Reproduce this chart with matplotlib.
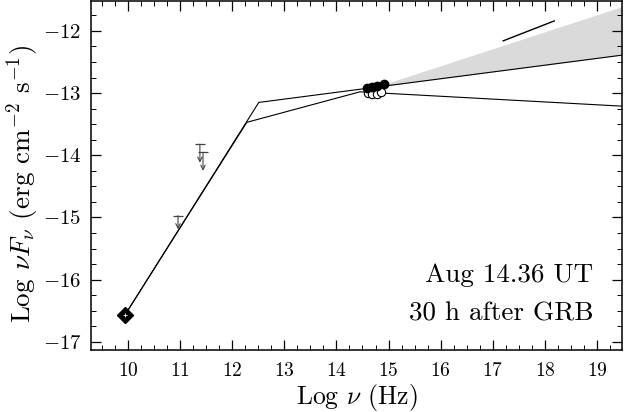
import numpy as np
import matplotlib
matplotlib.use("Agg")
import matplotlib.pyplot as plt
from matplotlib.ticker import MultipleLocator

plt.rcParams['font.family'] = ['cmr10', 'DejaVu Serif']
plt.rcParams['mathtext.fontset'] = 'cm'
plt.rcParams['axes.formatter.use_mathtext'] = True

# radio point
radio_x = [9.94]
radio_y = [-16.57]

# upper limits (mm / submm)
lim_x = [10.96, 11.38, 11.44]
lim_y = [-14.97, -13.82, -13.95]
lim_len = [0.22, 0.30, 0.30]

# optical / nIR points
opt_x = [14.58, 14.68, 14.78, 14.91]
opt_y = [-12.92, -12.91, -12.89, -12.85]
opt2_x = [14.60, 14.68, 14.77, 14.86]
opt2_y = [-13.00, -13.02, -13.01, -12.99]

# model spectra (break points)
modA_x = [9.94, 12.51, 19.48]
modA_y = [-16.57, -13.15, -12.39]
modB_x = [9.94, 12.28, 14.45, 19.48]
modB_y = [-16.57, -13.47, -12.98, -13.21]

# allowed x-ray extrapolation
wedge_x = [14.72, 19.48]
wedge_lo = [-12.91, -12.39]
wedge_hi = [-12.91, -11.61]

# x-ray segment
xr_x = [17.20, 18.18]
xr_y = [-12.16, -11.84]

fig = plt.figure(figsize=(6.24, 4.12), dpi=100)
ax = fig.add_axes([0.1458, 0.1505, 0.851, 0.847])

ax.fill_between(wedge_x, wedge_lo, wedge_hi, color='#dadada', lw=0, zorder=1)
ax.plot(modA_x, modA_y, color='k', lw=0.8, zorder=2)
ax.plot(modB_x, modB_y, color='k', lw=0.8, zorder=2)
ax.plot(xr_x, xr_y, color='k', lw=1.0, zorder=2)

ax.plot(radio_x, radio_y, 'D', color='k', ms=8.5, zorder=4)
ax.plot(radio_x, radio_y, '+', color='w', ms=3, mew=0.6, zorder=5)

for x, y, l in zip(lim_x, lim_y, lim_len):
    ax.plot([x], [y], '_', color='#444444', ms=7, mew=0.9, zorder=3)
    ax.annotate('', xy=(x, y - l), xytext=(x, y),
                arrowprops=dict(arrowstyle='->', color='#444444', lw=0.8,
                                shrinkA=0, shrinkB=0, mutation_scale=8))

ax.plot(opt2_x, opt2_y, 'o', mfc='w', mec='k', ms=6, mew=0.8, zorder=4)
ax.plot(opt_x, opt_y, 'o', color='k', ms=6, zorder=5)

ax.text(18.93, -15.92, 'Aug 14.36 UT', fontsize=19.5, ha='right', va='center')
ax.text(18.93, -16.55, '30 h after GRB', fontsize=19.5, ha='right', va='center')

ax.set_xlim(9.29, 19.48)
ax.set_ylim(-17.13, -11.52)
ax.xaxis.set_major_locator(MultipleLocator(1))
ax.xaxis.set_minor_locator(MultipleLocator(0.25))
ax.yaxis.set_major_locator(MultipleLocator(1))
ax.yaxis.set_minor_locator(MultipleLocator(0.25))
ax.tick_params(which='both', direction='in', top=True, right=True)
ax.tick_params(axis='x', labelsize=14)
ax.tick_params(axis='y', labelsize=15)
ax.tick_params(which='major', length=7, width=0.9)
ax.tick_params(axis='x', which='major', pad=9)
ax.tick_params(axis='y', which='major', pad=7)
ax.tick_params(which='minor', length=3.5, width=0.7)
for s in ax.spines.values():
    s.set_linewidth(1.1)

ax.set_xlabel(r'Log $\nu$ (Hz)', fontsize=18.5, va='center')
ax.xaxis.set_label_coords(0.5, -0.136)
ax.set_ylabel(r'Log $\nu F_\nu$ (erg cm$^{-2}$ s$^{-1}$)', fontsize=19.5, va='center')
ax.yaxis.set_label_coords(-0.128, 0.475)

fig.savefig('out.png', dpi=100)
